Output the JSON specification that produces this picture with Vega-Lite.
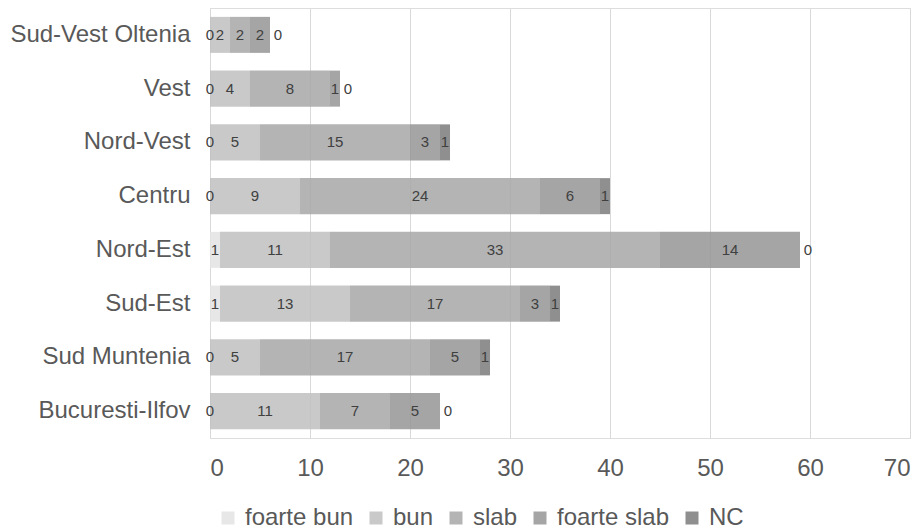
{
  "$schema": "https://vega.github.io/schema/vega-lite/v6.json",
  "width": 700,
  "height": 430,
  "autosize": {"type": "none"},
  "padding": {"left": 210, "top": 8, "right": 13, "bottom": 92},
  "background": "white",
  "data": {"values": [
    {"r": "Sud-Vest Oltenia", "c": "foarte bun", "v": 0, "o": 1},
    {"r": "Sud-Vest Oltenia", "c": "bun", "v": 2, "o": 2},
    {"r": "Sud-Vest Oltenia", "c": "slab", "v": 2, "o": 3},
    {"r": "Sud-Vest Oltenia", "c": "foarte slab", "v": 2, "o": 4},
    {"r": "Sud-Vest Oltenia", "c": "NC", "v": 0, "o": 5},
    {"r": "Vest", "c": "foarte bun", "v": 0, "o": 1},
    {"r": "Vest", "c": "bun", "v": 4, "o": 2},
    {"r": "Vest", "c": "slab", "v": 8, "o": 3},
    {"r": "Vest", "c": "foarte slab", "v": 1, "o": 4},
    {"r": "Vest", "c": "NC", "v": 0, "o": 5},
    {"r": "Nord-Vest", "c": "foarte bun", "v": 0, "o": 1},
    {"r": "Nord-Vest", "c": "bun", "v": 5, "o": 2},
    {"r": "Nord-Vest", "c": "slab", "v": 15, "o": 3},
    {"r": "Nord-Vest", "c": "foarte slab", "v": 3, "o": 4},
    {"r": "Nord-Vest", "c": "NC", "v": 1, "o": 5},
    {"r": "Centru", "c": "foarte bun", "v": 0, "o": 1},
    {"r": "Centru", "c": "bun", "v": 9, "o": 2},
    {"r": "Centru", "c": "slab", "v": 24, "o": 3},
    {"r": "Centru", "c": "foarte slab", "v": 6, "o": 4},
    {"r": "Centru", "c": "NC", "v": 1, "o": 5},
    {"r": "Nord-Est", "c": "foarte bun", "v": 1, "o": 1},
    {"r": "Nord-Est", "c": "bun", "v": 11, "o": 2},
    {"r": "Nord-Est", "c": "slab", "v": 33, "o": 3},
    {"r": "Nord-Est", "c": "foarte slab", "v": 14, "o": 4},
    {"r": "Nord-Est", "c": "NC", "v": 0, "o": 5},
    {"r": "Sud-Est", "c": "foarte bun", "v": 1, "o": 1},
    {"r": "Sud-Est", "c": "bun", "v": 13, "o": 2},
    {"r": "Sud-Est", "c": "slab", "v": 17, "o": 3},
    {"r": "Sud-Est", "c": "foarte slab", "v": 3, "o": 4},
    {"r": "Sud-Est", "c": "NC", "v": 1, "o": 5},
    {"r": "Sud Muntenia", "c": "foarte bun", "v": 0, "o": 1},
    {"r": "Sud Muntenia", "c": "bun", "v": 5, "o": 2},
    {"r": "Sud Muntenia", "c": "slab", "v": 17, "o": 3},
    {"r": "Sud Muntenia", "c": "foarte slab", "v": 5, "o": 4},
    {"r": "Sud Muntenia", "c": "NC", "v": 1, "o": 5},
    {"r": "Bucuresti-Ilfov", "c": "foarte bun", "v": 0, "o": 1},
    {"r": "Bucuresti-Ilfov", "c": "bun", "v": 11, "o": 2},
    {"r": "Bucuresti-Ilfov", "c": "slab", "v": 7, "o": 3},
    {"r": "Bucuresti-Ilfov", "c": "foarte slab", "v": 5, "o": 4},
    {"r": "Bucuresti-Ilfov", "c": "NC", "v": 0, "o": 5}
  ]},
  "transform": [
    {"stack": "v", "groupby": ["r"], "sort": [{"field": "o", "order": "ascending"}], "as": ["v0", "v1"]},
    {"calculate": "(datum.v0 + datum.v1) / 2", "as": "mid"}
  ],
  "config": {
    "axisX": {"title": null, "domain": false, "ticks": false, "grid": true, "gridColor": "#d9d9d9",
              "labelFont": "Liberation Sans", "labelFontSize": 24, "labelColor": "#595959", "labelPadding": 18,
              "labelOverlap": false}
  },
  "encoding": {
    "y": {
      "field": "r", "type": "nominal", "sort": null,
      "scale": {"paddingInner": 0.33, "paddingOuter": 0.165},
      "axis": {"title": null, "domain": false, "ticks": false, "grid": false, "labelLimit": 300,
               "labelFont": "Liberation Sans", "labelFontSize": 24, "labelColor": "#595959", "labelPadding": 20}
    }
  },
  "layer": [
    {
      "mark": {"type": "bar", "opacity": 0.85},
      "encoding": {
        "x": {
          "field": "v0", "type": "quantitative",
          "scale": {"domain": [0, 70]},
          "axis": {"values": [0, 10, 20, 30, 40, 50, 60, 70], "labelOverlap": false}
        },
        "x2": {"field": "v1"},
        "color": {
          "field": "c", "type": "nominal",
          "scale": {"domain": ["foarte bun", "bun", "slab", "foarte slab", "NC"],
                    "range": ["#e3e3e3", "#c0c0c0", "#a7a7a7", "#959595", "#7b7b7b"]},
          "legend": {"title": null, "orient": "none", "direction": "horizontal", "legendX": 6, "legendY": 498,
                     "symbolType": "square", "symbolSize": 169, "symbolOpacity": 0.85, "symbolStrokeWidth": 0,
                     "labelFont": "Liberation Sans", "labelFontSize": 24, "labelColor": "#595959",
                     "labelOffset": 5, "columnPadding": 10}
        }
      }
    },
    {
      "transform": [{"filter": "!(datum.c == 'NC' && datum.v == 0)"}],
      "mark": {"type": "text", "font": "Liberation Sans", "fontSize": 15, "color": "#404040"},
      "encoding": {
        "x": {"field": "mid", "type": "quantitative", "axis": {"values": [0, 10, 20, 30, 40, 50, 60, 70], "labelOverlap": false}},
        "text": {"field": "v", "type": "quantitative"}
      }
    },
    {
      "transform": [{"filter": "datum.c == 'NC' && datum.v == 0"}],
      "mark": {"type": "text", "font": "Liberation Sans", "fontSize": 15, "color": "#404040", "dx": 8},
      "encoding": {
        "x": {"field": "mid", "type": "quantitative", "axis": {"values": [0, 10, 20, 30, 40, 50, 60, 70], "labelOverlap": false}},
        "text": {"field": "v", "type": "quantitative"}
      }
    }
  ]
}
